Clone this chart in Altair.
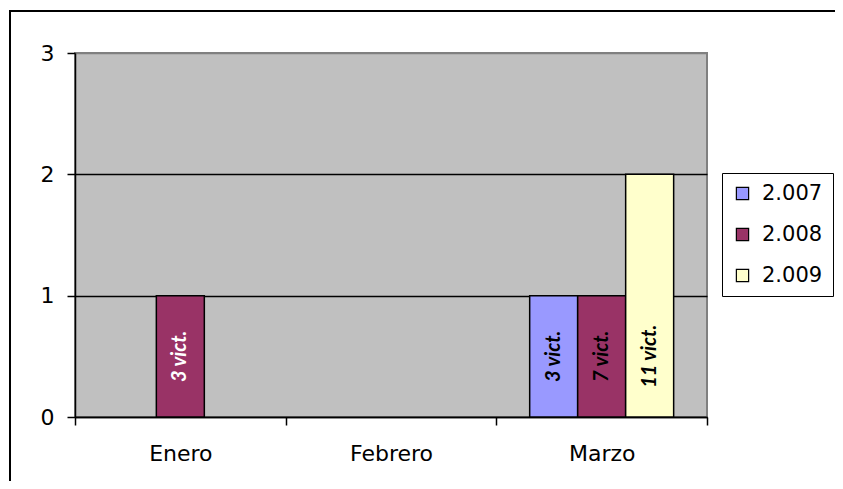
import altair as alt
import pandas as pd

meses = ["Enero", "Febrero", "Marzo"]
series = ["2.007", "2.008", "2.009"]
colores = ["#9999FF", "#993366", "#FFFFCC"]
valores_2007 = [0, 0, 1]
valores_2008 = [1, 0, 1]
valores_2009 = [0, 0, 2]
etiquetas_2007 = ["", "", "3 vict."]
etiquetas_2008 = ["3 vict.", "", "7 vict."]
etiquetas_2009 = ["", "", "11 vict."]
y_ticks = [0, 1, 2, 3]

rows = []
for serie, vals, labs in [("2.007", valores_2007, etiquetas_2007),
                          ("2.008", valores_2008, etiquetas_2008),
                          ("2.009", valores_2009, etiquetas_2009)]:
    for m, v, l in zip(meses, vals, labs):
        rows.append({"mes": m, "serie": serie, "valor": v, "etiqueta": l})
df = pd.DataFrame(rows)

FONT = "DejaVu Sans"

x_enc = alt.X("mes:N", sort=meses,
              scale=alt.Scale(domain=meses, paddingInner=0, paddingOuter=0),
              axis=alt.Axis(title=None, labelAngle=0, tickBand="extent",
                            labelFont=FONT, labelFontSize=22, labelColor="black",
                            labelPadding=18, tickSize=8, tickColor="black",
                            domainColor="black", tickWidth=1.5, domainWidth=1.5))
xo_enc = alt.XOffset("serie:N", sort=series,
                     scale=alt.Scale(domain=series, paddingInner=0, paddingOuter=0.695))
y_scale = alt.Scale(domain=[0, 3])

frame = alt.Chart(pd.DataFrame({"a": [0]})).mark_rect(
    filled=False, stroke="black", strokeWidth=2
).encode(x=alt.value(-65), x2=alt.value(900), y=alt.value(-42), y2=alt.value(600))

bars = alt.Chart(df).transform_filter("datum.valor > 0").mark_bar(
    stroke="black", strokeWidth=1.5
).encode(
    x=x_enc,
    xOffset=xo_enc,
    y=alt.Y("valor:Q", scale=y_scale,
            axis=alt.Axis(title=None, values=y_ticks, format="d", labelFont=FONT,
                          labelFontSize=22, labelColor="black", labelPadding=13,
                          tickSize=8, tickColor="black", domainColor="black",
                          tickWidth=1.5, domainWidth=1.5, grid=True,
                          gridColor={"condition": {"test": "datum.value === 3", "value": "#808080"},
                                     "value": "black"},
                          gridWidth=1.5)),
    color=alt.Color("serie:N", sort=series,
                    scale=alt.Scale(domain=series, range=colores),
                    legend=alt.Legend(title=None, orient="none", legendX=647, legendY=120,
                                      symbolType="square", symbolSize=150,
                                      symbolStrokeColor="black", symbolStrokeWidth=1.2,
                                      labelFont=FONT, labelFontSize=21, labelColor="black",
                                      labelOffset=9, rowPadding=19, padding=10,
                                      strokeColor="black", fillColor="white")),
)

texts = alt.Chart(df).transform_filter("datum.valor > 0").mark_text(
    angle=270, font="Lato", fontSize=20, fontWeight="bold", fontStyle="italic",
    align="center", baseline="middle"
).encode(
    x=alt.X("mes:N", sort=meses),
    xOffset=alt.XOffset("serie:N", sort=series),
    y=alt.datum(0.5),
    text="etiqueta:N",
    color=alt.condition("datum.mes === 'Enero'", alt.value("white"), alt.value("black")),
)

chart = alt.layer(frame, bars, texts).properties(
    width=632, height=364,
    autosize=alt.AutoSizeParams(type="none"),
    padding={"left": 67, "top": 45, "right": 128, "bottom": 64},
    background="white",
).configure_view(fill="#C0C0C0", stroke="#808080", strokeWidth=2)

chart.save("out.html", embed_options={"renderer": "svg", "actions": False})
